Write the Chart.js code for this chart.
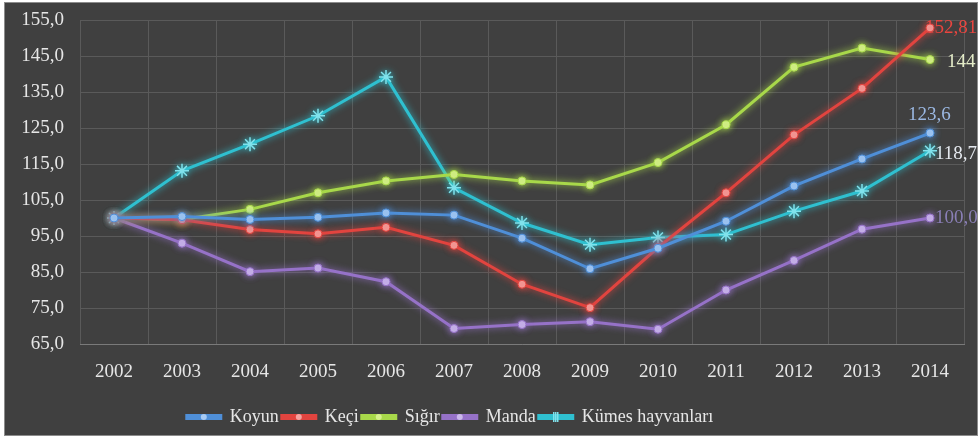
<!DOCTYPE html>
<html>
<head>
<meta charset="utf-8">
<script src="https://cdn.jsdelivr.net/npm/chart.js@4/dist/chart.umd.min.js"></script>
<style>
  html, body { margin: 0; padding: 0; background: #ffffff; }
  #wrap { width: 979px; height: 441px; position: relative; }
</style>
</head>
<body>
<div id="wrap"><canvas id="c" width="979" height="441"></canvas></div>
<script>
const years = ["2002","2003","2004","2005","2006","2007","2008","2009","2010","2011","2012","2013","2014"];
const koyun = [100, 100.4, 99.6, 100.2, 101.4, 100.8, 94.4, 85.9, 91.6, 99.1, 108.9, 116.4, 123.6];
const keci  = [100, 99.5, 96.8, 95.6, 97.4, 92.4, 81.6, 75.1, 91.8, 107.0, 123.1, 136.0, 152.81];
const sigir = [100, 99.6, 102.4, 107.0, 110.3, 112.1, 110.3, 109.2, 115.4, 125.9, 141.9, 147.2, 144.0];
const manda = [100, 93.0, 85.1, 86.1, 82.3, 69.3, 70.4, 71.2, 69.1, 80.0, 88.2, 96.9, 100.0];
const kumes = [100, 113.1, 120.5, 128.4, 139.2, 108.4, 98.6, 92.6, 94.6, 95.4, 101.9, 107.5, 118.7];
const seriesNames = ["Koyun", "Keçi", "Sığır", "Manda", "Kümes hayvanları"];
const endLabels = ["123,6", "152,81", "144", "100,0", "118,7"];
const yTicks = [65, 75, 85, 95, 105, 115, 125, 135, 145, 155];

const FONT = "'Liberation Serif', 'Times New Roman', serif";
Chart.defaults.font.family = FONT;
const lineColors  = ["#4f8fd8", "#e2443f", "#a8d84a", "#9672c8", "#2fc0d0"];
const pointColors = ["#a8cbf4", "#f5a3a0", "#d6f08c", "#cbb8ec", "#80e2ec"];
const labelColors = ["#9bb8e2", "#e8453f", "#e4ecc8", "#8a7fb6", "#e4e8ee"];

const frame = {
  id: 'frame',
  beforeDraw(chart) {
    const ctx = chart.ctx;
    ctx.save();
    ctx.fillStyle = '#ffffff';
    ctx.fillRect(0, 0, chart.width, chart.height);
    ctx.fillStyle = '#404040';
    ctx.fillRect(4, 2, 974, 434);
    ctx.strokeStyle = '#8c8c8c';
    ctx.lineWidth = 1;
    ctx.strokeRect(4.5, 2.5, 973, 433);
    ctx.restore();
  }
};

const legendShift = {
  id: 'legendShift',
  afterLayout(chart) {
    if (chart.legend) {
      chart.legend.left -= 34;
      chart.legend.right -= 34;
    }
  }
};

const glow = {
  id: 'glow',
  beforeDatasetDraw(chart, args) {
    const ctx = chart.ctx;
    ctx.save();
    ctx.shadowColor = lineColors[args.index];
    ctx.shadowBlur = 7;
  },
  afterDatasetDraw(chart) {
    chart.ctx.restore();
  }
};

const endLabelPlugin = {
  id: 'endLabels',
  beforeDatasetsDraw(chart) {
    const ctx = chart.ctx;
    const offsets = [[-22, -18], [-5, 0], [17, 2], [5, 0], [5, 3]];
    ctx.save();
    ctx.font = "19px " + FONT;
    ctx.textBaseline = 'middle';
    ctx.textAlign = 'left';
    chart.data.datasets.forEach((ds, i) => {
      const meta = chart.getDatasetMeta(i);
      const pt = meta.data[meta.data.length - 1];
      ctx.fillStyle = labelColors[i];
      ctx.fillText(endLabels[i], pt.x + offsets[i][0], pt.y + offsets[i][1]);
    });
    ctx.restore();
  }
};

const legendMarkers = {
  id: 'legendMarkers',
  afterDraw(chart) {
    const lg = chart.legend;
    if (!lg || !lg.legendHitBoxes) return;
    const ctx = chart.ctx;
    const bw = chart.options.plugins.legend.labels.boxWidth;
    lg.legendHitBoxes.forEach((hb, i) => {
      const cx = hb.left + bw / 2;
      const cy = hb.top + hb.height / 2;
      ctx.save();
      ctx.fillStyle = pointColors[i];
      ctx.strokeStyle = pointColors[i];
      ctx.lineWidth = 1.5;
      if (i === 4) {
        ctx.beginPath();
        for (let k = 0; k < 3; k++) {
          ctx.moveTo(cx - 2 + k * 2, cy - 5);
          ctx.lineTo(cx - 2 + k * 2, cy + 5);
        }
        ctx.stroke();
      } else {
        ctx.beginPath();
        ctx.arc(cx, cy, 3, 0, Math.PI * 2);
        ctx.fill();
      }
      ctx.restore();
    });
  }
};

const allSeries = [koyun, keci, sigir, manda, kumes];
const datasets = allSeries.map((d, i) => ({
  label: seriesNames[i],
  data: d,
  borderColor: lineColors[i],
  backgroundColor: lineColors[i],
  pointBackgroundColor: pointColors[i],
  pointBorderColor: i === 4 ? pointColors[i] : lineColors[i],
  pointBorderWidth: i === 4 ? 1.5 : 1,
  pointStyle: i === 4 ? 'star' : 'circle',
  pointRadius: i === 4 ? 7 : 4,
  borderWidth: 3,
  tension: 0,
  fill: false
}));

new Chart(document.getElementById('c'), {
  type: 'line',
  data: { labels: years, datasets },
  plugins: [frame, legendShift, glow, endLabelPlugin, legendMarkers],
  options: {
    responsive: false,
    animation: false,
    layout: { padding: { top: 20, left: 4, right: 15, bottom: 5 } },
    scales: {
      x: {
        offset: true,
        grid: { offset: true, color: '#5a5a5a', lineWidth: 1, drawTicks: false },
        border: { color: '#7a7a7a', width: 1 },
        ticks: { color: '#e6e6e6', font: { family: FONT, size: 19 }, padding: 17, maxRotation: 0 },
        afterFit(scale) { scale.height = 61; }
      },
      y: {
        min: 65, max: 155,
        afterBuildTicks(scale) { scale.ticks = yTicks.map(v => ({ value: v })); },
        grid: { color: '#5a5a5a', lineWidth: 1, drawTicks: false },
        border: { display: false },
        ticks: {
          color: '#e6e6e6', font: { family: FONT, size: 19 }, padding: 16,
          callback: v => v.toFixed(1).replace('.', ',')
        },
        afterFit(scale) { scale.width = 76; scale.paddingTop = 6; scale.paddingBottom = 6; }
      }
    },
    plugins: {
      legend: {
        position: 'bottom',
        labels: {
          color: '#e6e6e6',
          font: { family: FONT, size: 18 },
          boxWidth: 34,
          boxHeight: 3,
          padding: 3
        }
      },
      tooltip: { enabled: false }
    }
  }
});
</script>
</body>
</html>
